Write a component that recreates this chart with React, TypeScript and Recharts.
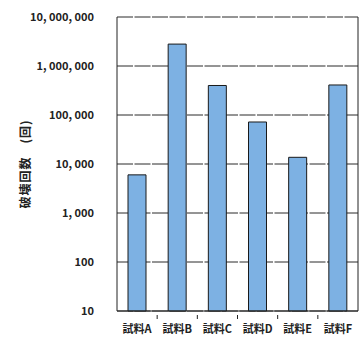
import { BarChart, Bar, XAxis, YAxis, CartesianGrid } from "recharts";

const samples = ["試料A", "試料B", "試料C", "試料D", "試料E", "試料F"];
const breakCounts = [6000, 2800000, 400000, 72000, 13700, 410000];
const yTicks = [10, 100, 1000, 10000, 100000, 1000000, 10000000];

const W = 362;
const H = 337;
const LEFT = 117;
const RIGHT_GAP = 4;
const band = (W - LEFT - RIGHT_GAP) / samples.length;

const FONT = "'Noto Sans CJK JP', 'Noto Sans', sans-serif";
const INK = "#222";

const data = samples.map((name, i) => ({ name, count: breakCounts[i] }));

const fmt = (v: number) => v.toLocaleString("en-US").replace(/,/g, ", ");

// category label plus a short inward tick on the right boundary of each band
function SampleTick(props: any) {
  const { x, y, payload, index } = props;
  return (
    <g>
      {index < samples.length - 1 && (
        <line x1={x + band / 2} x2={x + band / 2} y1={y} y2={y - 4} stroke={INK} />
      )}
      <text
        x={x}
        y={y + 14}
        textAnchor="middle"
        fontSize={11}
        fontWeight={700}
        fontFamily={FONT}
        fill={INK}
      >
        {payload.value}
      </text>
    </g>
  );
}

export default function App() {
  return (
    <div style={{ position: "absolute", left: 0, top: 0, background: "#fff" }}>
      <BarChart
        width={W}
        height={H}
        data={data}
        margin={{ top: 17, right: 3, bottom: 0, left: 0 }}
        barSize={18}
      >
        <CartesianGrid
          yAxisId="left"
          vertical={false}
          stroke="#2a2a2a"
          strokeDasharray="16 1.5"
        />
        <XAxis
          dataKey="name"
          height={26}
          axisLine={{ stroke: INK }}
          tickLine={false}
          tick={<SampleTick />}
          interval={0}
        />
        <YAxis
          yAxisId="left"
          scale="log"
          domain={[10, 10000000]}
          ticks={yTicks}
          width={LEFT}
          axisLine={{ stroke: INK }}
          tickLine={false}
          tickMargin={17}
          tickFormatter={fmt}
          tick={{ fontSize: 11, fontWeight: 700, fontFamily: FONT, fill: INK }}
          label={{
            value: "破壊回数　(回)",
            angle: -90,
            position: "center",
            dx: -33,
            fontSize: 12,
            fontWeight: 700,
            letterSpacing: 1,
            fontFamily: FONT,
            fill: INK,
          }}
        />
        <YAxis
          yAxisId="right"
          orientation="right"
          scale="log"
          domain={[10, 10000000]}
          ticks={yTicks}
          width={1}
          axisLine={{ stroke: INK }}
          tickLine={false}
          tick={false}
        />
        <Bar
          yAxisId="left"
          dataKey="count"
          fill="#7db1e3"
          stroke="#1a1a1a"
          strokeWidth={1}
          isAnimationActive={false}
        />
      </BarChart>
    </div>
  );
}
